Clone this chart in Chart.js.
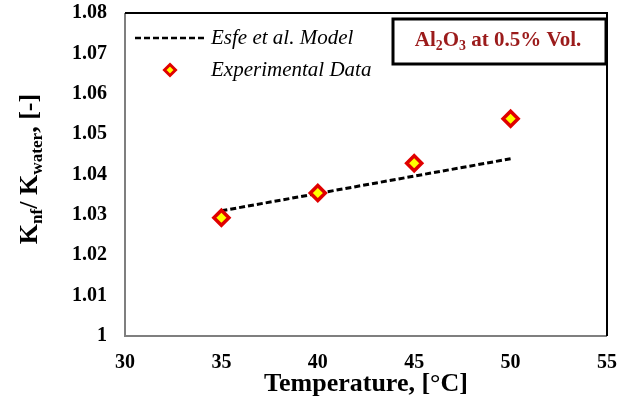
<!DOCTYPE html>
<html lang="en">
<head>
    <meta charset="UTF-8">
    <title>Knf / Kwater vs Temperature</title>
    <script src="https://cdn.jsdelivr.net/npm/chart.js"></script>
    <style>
        body { margin: 0; background: #FFFFFF; }
        #wrap { width: 632px; height: 407px; }
    </style>
</head>
<body>
    <div id="wrap"><canvas id="chart" width="632" height="407"></canvas></div>
    <script>
        // Data
        const temps = [35, 40, 45, 50];
        const experimental = [1.0293, 1.0354, 1.0428, 1.0538];
        const modelValues = [1.0310, 1.0353, 1.0396, 1.0439];
        const xTicks = [30, 35, 40, 45, 50, 55];
        const yTicks = [1, 1.01, 1.02, 1.03, 1.04, 1.05, 1.06, 1.07, 1.08];

        const SERIF = '"Liberation Serif", "DejaVu Serif", serif';
        const darkRed = '#9B1B1B';

        // draws text runs with subscripts, starting at x
        function drawRuns(ctx, runs, x, y, size) {
            runs.forEach(r => {
                const s = r.sub ? size * 0.66 : size;
                ctx.font = 'bold ' + s + 'px ' + SERIF;
                ctx.fillText(r.t, x, r.sub ? y + size * 0.28 : y);
                x += ctx.measureText(r.t).width;
            });
            return x;
        }
        function runsWidth(ctx, runs, size) {
            let w = 0;
            runs.forEach(r => {
                ctx.font = 'bold ' + (r.sub ? size * 0.66 : size) + 'px ' + SERIF;
                w += ctx.measureText(r.t).width;
            });
            return w;
        }

        const decor = {
            id: 'decor',
            afterDraw(chart) {
                const ctx = chart.ctx;
                const a = chart.chartArea;
                ctx.save();
                // frame
                ctx.lineWidth = 2;
                ctx.strokeStyle = '#7F7F7F';
                ctx.beginPath();
                ctx.moveTo(a.left, a.top); ctx.lineTo(a.left, a.bottom); ctx.lineTo(a.right, a.bottom);
                ctx.stroke();
                ctx.strokeStyle = '#000000';
                ctx.beginPath();
                ctx.moveTo(a.left, a.top); ctx.lineTo(a.right, a.top); ctx.lineTo(a.right, a.bottom);
                ctx.stroke();

                // legend
                ctx.fillStyle = '#000';
                ctx.font = 'italic 21px ' + SERIF;
                ctx.textBaseline = 'middle';
                ctx.textAlign = 'left';
                ctx.setLineDash([6, 3]);
                ctx.lineWidth = 2.5;
                ctx.beginPath();
                ctx.moveTo(135, 38); ctx.lineTo(204, 38);
                ctx.stroke();
                ctx.setLineDash([]);
                ctx.fillText('Esfe et al. Model', 211, 38);
                ctx.beginPath();
                ctx.moveTo(170, 64.5); ctx.lineTo(175.5, 70); ctx.lineTo(170, 75.5); ctx.lineTo(164.5, 70); ctx.closePath();
                ctx.fillStyle = '#FFFF00';
                ctx.fill();
                ctx.strokeStyle = '#E00000';
                ctx.lineWidth = 3;
                ctx.stroke();
                ctx.fillStyle = '#000';
                ctx.fillText('Experimental Data', 211, 70);

                // annotation box
                ctx.fillStyle = '#FFFFFF';
                ctx.fillRect(393, 19, 213, 45);
                ctx.strokeStyle = '#000';
                ctx.lineWidth = 3;
                ctx.strokeRect(393, 19, 213, 45);
                ctx.fillStyle = darkRed;
                const label = [{t: 'Al'}, {t: '2', sub: true}, {t: 'O'}, {t: '3', sub: true}, {t: ' at 0.5% Vol.'}];
                const lw = runsWidth(ctx, label, 21);
                drawRuns(ctx, label, 498 - lw / 2, 41, 21);

                // x title
                ctx.fillStyle = '#000';
                ctx.font = 'bold 26px ' + SERIF;
                ctx.textAlign = 'center';
                ctx.fillText('Temperature, [\u00B0C]', (a.left + a.right) / 2, 384);

                // y title
                ctx.translate(30, 169);
                ctx.rotate(-Math.PI / 2);
                ctx.textAlign = 'left';
                const yl = [{t: 'K'}, {t: 'nf', sub: true}, {t: '/ K'}, {t: 'water', sub: true}, {t: ', [-]'}];
                const yw = runsWidth(ctx, yl, 26);
                drawRuns(ctx, yl, -yw / 2, 0, 26);
                ctx.restore();
            }
        };

        new Chart(document.getElementById('chart'), {
            type: 'scatter',
            data: {
                datasets: [{
                    label: 'Experimental Data',
                    data: temps.map((t, i) => ({x: t, y: experimental[i]})),
                    pointStyle: 'rectRot',
                    pointRadius: 7.5,
                    pointBorderWidth: 3.5,
                    pointBackgroundColor: '#FFFF00',
                    pointBorderColor: '#E00000',
                    showLine: false,
                    order: 0
                }, {
                    label: 'Esfe et al. Model',
                    data: temps.map((t, i) => ({x: t, y: modelValues[i]})),
                    showLine: true,
                    borderColor: '#000000',
                    borderWidth: 3,
                    borderDash: [6, 3],
                    pointRadius: 0,
                    order: 1
                }]
            },
            options: {
                responsive: false,
                animation: false,
                events: [],
                layout: { padding: { top: 13, right: 25, left: 0, bottom: 0 } },
                plugins: { legend: { display: false }, tooltip: { enabled: false } },
                scales: {
                    x: {
                        type: 'linear',
                        min: 30, max: 55,
                        afterBuildTicks: s => { s.ticks = xTicks.map(v => ({value: v})); },
                        afterFit: s => { s.height = 71; s.paddingLeft = 0; s.paddingRight = 0; },
                        grid: { display: false, drawTicks: false },
                        border: { display: false },
                        ticks: { color: '#000', padding: 15, font: { family: SERIF, size: 20, weight: 'bold' } }
                    },
                    y: {
                        min: 1, max: 1.08,
                        afterBuildTicks: s => { s.ticks = yTicks.map(v => ({value: v})); },
                        afterFit: s => { s.width = 125; s.paddingTop = 0; s.paddingBottom = 0; },
                        grid: { display: false, drawTicks: false },
                        border: { display: false },
                        ticks: {
                            color: '#000', padding: 18,
                            font: { family: SERIF, size: 20, weight: 'bold' },
                            callback: v => String(Math.round(v * 100) / 100)
                        }
                    }
                }
            },
            plugins: [decor]
        });
    </script>
</body>
</html>
